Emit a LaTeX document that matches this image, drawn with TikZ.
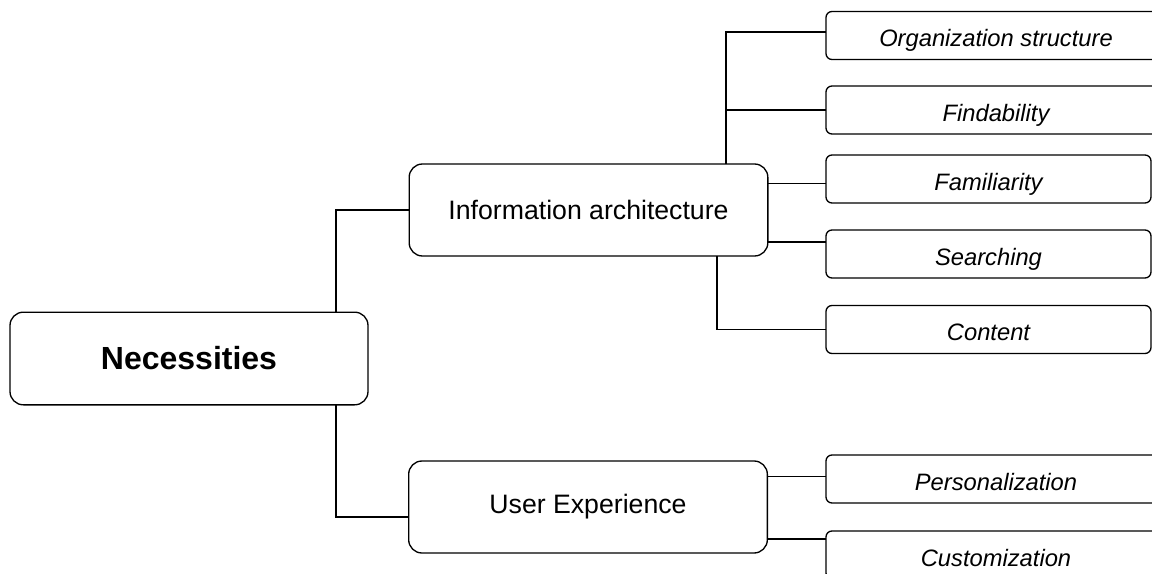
\documentclass[tikz,border=0pt]{standalone}
\usepackage{fontspec}
\setmainfont{Liberation Sans}

\begin{document}
\begin{tikzpicture}[x=0.75pt,y=-0.75pt,line width=1pt,
    box/.style={draw,rounded corners=10pt,inner sep=0pt,outer sep=0pt,align=center},
    rootbox/.style={box,minimum width=268.5pt,minimum height=69.5pt,font=\fontsize{24}{28}\selectfont\bfseries},
    areabox/.style={box,minimum width=269pt,minimum height=69pt,font=\fontsize{20}{24}\selectfont},
    leafbox/.style={box,rounded corners=4.5pt,anchor=west,minimum width=243.75pt,minimum height=36pt,
        text height=17pt,text depth=0pt,font=\fontsize{17.8}{21}\selectfont\itshape},
    cutbox/.style={leafbox,minimum width=255pt}]
            \useasboundingbox (0,0) rectangle (1152,574);

            \node[rootbox] (root) at (189,358.5) {Necessities};
            \node[areabox] (ia) at (588.5,210) {Information architecture};
            \node[areabox] (ux) at (588,507) {User Experience};

            \node[cutbox]  (org)  at (826,35.5) {Organization structure};
            \node[cutbox]  (find) at (826,110)  {Findability};
            \node[leafbox] (fam)  at (826,179)  {Familiarity};
            \node[leafbox] (srch) at (826,254)  {Searching};
            \node[leafbox] (cont) at (826,329.5) {Content};
            \node[cutbox]  (pers) at (826,479)  {Personalization};
            \node[cutbox]  (cust) at (826,555)  {Customization};

            % trunk behind the root box
            \coordinate (trunk) at (336,0);
            \draw (ia.west) -| (trunk |- root.north);
            \draw ([yshift=-7.5pt]ux.west) -| (trunk |- root.south);

            % branches of the information architecture
            \coordinate (iaup) at (726,32);
            \draw (ia.north -| iaup) -- (iaup) -- (iaup -| org.west);
            \draw (find.west) -- (find.west -| iaup);
            \coordinate (famin) at ([yshift=20pt]ia.east);
            \draw (famin) -- (famin -| fam.west);
            \coordinate (srchin) at ([yshift=-24pt]ia.east);
            \draw (srchin) -- (srchin -| srch.west);
            \coordinate (iadown) at (717,0);
            \draw (ia.south -| iadown) |- (cont.west);

            % branches of the user experience
            \coordinate (persin) at ([yshift=23pt]ux.east);
            \draw (persin) -- (persin -| pers.west);
            \coordinate (custin) at ([yshift=-24pt]ux.east);
            \draw (custin) -- (custin -| cust.west);
        \end{tikzpicture}
\end{document}
